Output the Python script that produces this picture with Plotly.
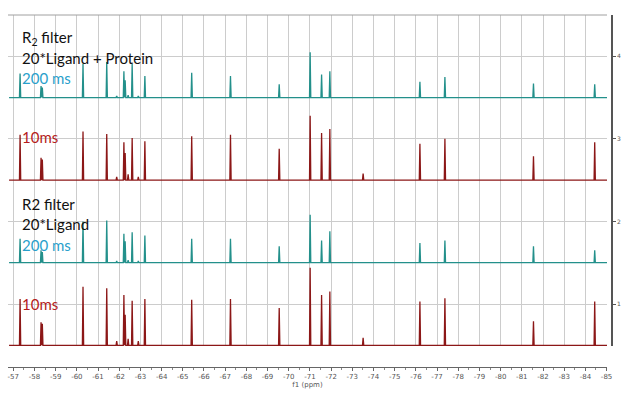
import plotly.graph_objects as go

# Peak positions (ppm)
peaks_ppm = [-57.32, -58.31, -58.37, -60.29, -61.41, -61.88, -62.22, -62.28, -62.42,
             -62.61, -62.90, -63.21, -65.42, -67.25, -69.55, -71.01, -71.55, -71.94,
             -73.51, -76.19, -77.37, -81.55, -84.44]

# Peak heights (in axis units) for each spectrum
lp_200ms = [0.29, 0.14, 0.12, 0.41, 0.43, 0.02, 0.32, 0.21, 0.03, 0.41, 0.02, 0.26,
            0.30, 0.26, 0.16, 0.55, 0.28, 0.32, 0.00, 0.19, 0.25, 0.17, 0.16]
lp_10ms = [0.55, 0.27, 0.25, 0.59, 0.56, 0.04, 0.46, 0.33, 0.07, 0.51, 0.04, 0.47,
           0.53, 0.55, 0.38, 0.78, 0.57, 0.62, 0.08, 0.44, 0.50, 0.29, 0.46]
l_200ms = [0.29, 0.15, 0.13, 0.50, 0.51, 0.02, 0.35, 0.26, 0.03, 0.37, 0.02, 0.33,
           0.29, 0.29, 0.20, 0.58, 0.27, 0.38, 0.00, 0.24, 0.27, 0.20, 0.15]
l_10ms = [0.56, 0.28, 0.26, 0.71, 0.69, 0.05, 0.61, 0.37, 0.08, 0.54, 0.05, 0.56,
          0.55, 0.56, 0.45, 0.94, 0.61, 0.65, 0.09, 0.53, 0.57, 0.29, 0.53]

# Vertical offsets (baselines) of the stacked spectra
offsets = [3.5, 2.5, 1.5, 0.5]
spec_start, spec_end = -56.80, -85.03
x_ticks = list(range(-57, -86, -1))
y_ticks = [1, 2, 3, 4]

TEAL = "#23908b"
DRED = "#8c1717"

half_w = 0.03


def build(heights, base):
    xs = [spec_start]
    ys = [base]
    for p, h in zip(peaks_ppm, heights):
        if h <= 0:
            continue
        xs += [p + half_w, p, p - half_w]
        ys += [base, base + h, base]
    xs.append(spec_end)
    ys.append(base)
    return xs, ys


fig = go.Figure()
series = [(lp_200ms, offsets[0], TEAL), (lp_10ms, offsets[1], DRED),
          (l_200ms, offsets[2], TEAL), (l_10ms, offsets[3], DRED)]
for h, b, c in series:
    xs, ys = build(h, b)
    fig.add_trace(go.Scatter(x=xs, y=ys, mode="lines",
                             line=dict(color=c, width=1.3), hoverinfo="skip",
                             showlegend=False))

FONT = "Lato, 'Open Sans', sans-serif"
ann = [
    ("R<sub>2</sub> filter", 4.22, "#111111"),
    ("20*Ligand + Protein", 3.98, "#111111"),
    ("200 ms", 3.74, "#2a9fcb"),
    ("10ms", 3.02, "#b51c1c"),
    ("R2 filter", 2.21, "#111111"),
    ("20*Ligand", 1.965, "#111111"),
    ("200 ms", 1.71, "#2a9fcb"),
    ("10ms", 1.005, "#b51c1c"),
]
for t, y, c in ann:
    fig.add_annotation(x=-57.33, y=y, xref="x", yref="y", text=t, showarrow=False,
                       xanchor="left", yanchor="middle",
                       font=dict(family=FONT, size=15, color=c))

fig.add_shape(type="line", xref="paper", yref="paper", x0=0, x1=1, y0=1, y1=1,
              line=dict(color="#a0a0a0", width=1))

d0 = (369 - 348) / 354
fig.update_layout(
    width=629, height=394,
    margin=dict(l=8, r=22, t=15, b=25),
    paper_bgcolor="white", plot_bgcolor="white",
    xaxis=dict(range=[-56.75, -85.02], anchor="free", position=0,
               tickvals=x_ticks, ticktext=[str(v) for v in x_ticks],
               showgrid=True, gridcolor="#cccccc", gridwidth=1,
               zeroline=False, showline=True, linecolor="#666666", linewidth=1,
               ticks="outside", ticklen=3, tickcolor="#666666",
               minor=dict(dtick=0.5, ticks="outside", ticklen=2, tickcolor="#888888"),
               tickfont=dict(family="DejaVu Sans", size=7, color="#555555"),
               title=dict(text="f1 (ppm)", standoff=0,
                          font=dict(family="DejaVu Sans", size=7, color="#555555"))),
    yaxis=dict(range=[0.49, 4.5], domain=[d0, 1], side="right",
               anchor="free", position=1, shift=5,
               tickvals=y_ticks, ticktext=[str(v) for v in y_ticks],
               showgrid=True, gridcolor="#cccccc", gridwidth=1,
               zeroline=False, showline=True, linecolor="#555555", linewidth=1.5,
               ticks="outside", ticklen=3, tickcolor="#555555",
               tickfont=dict(family="DejaVu Sans", size=6, color="#555555")),
)

fig.write_html("out.html",
               config={"displayModeBar": False},
               post_script="document.body.style.margin='0px';document.body.style.overflow='hidden';")
